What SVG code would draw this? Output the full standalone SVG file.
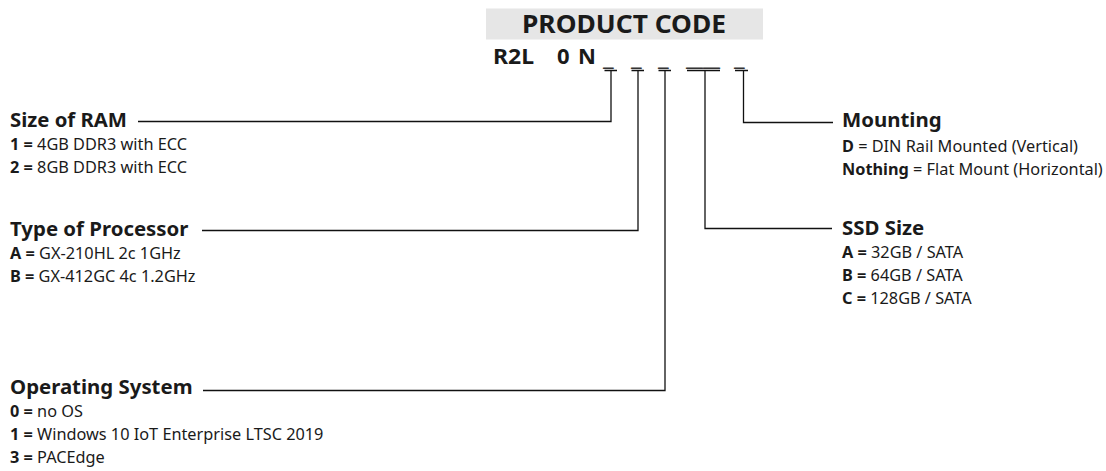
<svg xmlns="http://www.w3.org/2000/svg" width="1106" height="471" viewBox="0 0 1106 471">
<style>
text{font-family:"Noto Sans","Open Sans","Liberation Sans",sans-serif;fill:#1a1a1a}
.h{font-size:20.4px;font-weight:700}
.b{font-size:16.3px}
.b tspan.k{font-weight:700}
.code{font-size:22px;font-weight:700}
.us{font-size:24px;font-weight:400;fill:#333}
.ln{fill:none;stroke:#111;stroke-width:1.3}
</style>
<rect width="1106" height="471" fill="#fff"/>
<g id="product-code">
<rect x="486" y="8.5" width="277" height="31" fill="#e6e6e6"/>
<text x="624" y="32.5" text-anchor="middle" textLength="204" lengthAdjust="spacingAndGlyphs" style="font-size:25px;font-weight:700">PRODUCT CODE</text>
<text class="code" y="63.5"><tspan x="493" textLength="41" lengthAdjust="spacingAndGlyphs">R2L</tspan><tspan x="557">0</tspan><tspan x="578">N</tspan></text>
<text class="us" y="65"><tspan x="603">_</tspan><tspan x="631">_</tspan><tspan x="658">_</tspan></text>
<text class="us" y="65" x="686" textLength="34" lengthAdjust="spacingAndGlyphs">__</text>
<text class="us" y="65" x="734">_</text>
</g>
<g id="connectors">
<path class="ln" d="M604.5 70.5H617 M611 70.5V121.5H138"/>
<path class="ln" d="M631.5 70.5H644 M638 70.5V230.5H202"/>
<path class="ln" d="M658.5 70.5H671 M665 70.5V390.5H203"/>
<path class="ln" d="M687 70.5H720 M705 70.5V228.5H832"/>
<path class="ln" d="M735 70.5H748 M743.5 70.5V122.5H833"/>
</g>
<g id="ram">
<text class="h" x="10" y="127" textLength="117" lengthAdjust="spacingAndGlyphs">Size of RAM</text>
<text class="b" x="10" y="150"><tspan class="k">1 =</tspan> 4GB DDR3 with ECC</text>
<text class="b" x="10" y="173"><tspan class="k">2 =</tspan> 8GB DDR3 with ECC</text>
</g>
<g id="processor">
<text class="h" x="10" y="236">Type of Processor</text>
<text class="b" x="10" y="259"><tspan class="k">A =</tspan> GX-210HL 2c 1GHz</text>
<text class="b" x="10" y="282"><tspan class="k">B =</tspan> GX-412GC 4c 1.2GHz</text>
</g>
<g id="os">
<text class="h" x="10" y="394">Operating System</text>
<text class="b" x="10" y="417"><tspan class="k">0 =</tspan> no OS</text>
<text class="b" x="10" y="440"><tspan class="k">1 =</tspan> Windows 10 IoT Enterprise LTSC 2019</text>
<text class="b" x="10" y="463"><tspan class="k">3 =</tspan> PACEdge</text>
</g>
<g id="mounting">
<text class="h" x="842" y="127">Mounting</text>
<text class="b" x="842" y="152"><tspan class="k">D</tspan> = DIN Rail Mounted (Vertical)</text>
<text class="b" x="842" y="175"><tspan class="k">Nothing</tspan> = Flat Mount (Horizontal)</text>
</g>
<g id="ssd">
<text class="h" x="842" y="235">SSD Size</text>
<text class="b" x="842" y="258"><tspan class="k">A =</tspan> 32GB / SATA</text>
<text class="b" x="842" y="281"><tspan class="k">B =</tspan> 64GB / SATA</text>
<text class="b" x="842" y="304"><tspan class="k">C =</tspan> 128GB / SATA</text>
</g>
</svg>
